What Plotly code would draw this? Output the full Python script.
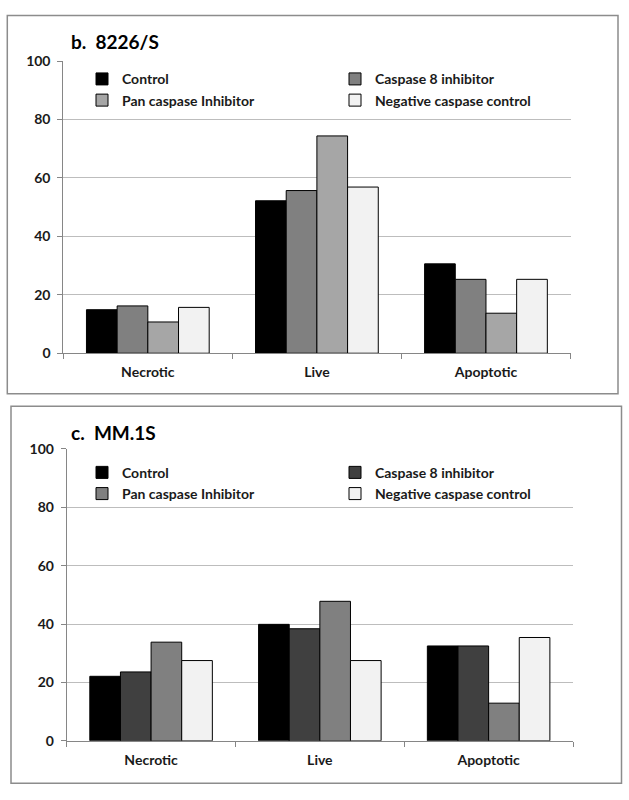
import plotly.graph_objects as go

categories = ["Necrotic", "Live", "Apoptotic"]
series_names = ["Control", "Caspase 8 inhibitor", "Pan caspase Inhibitor", "Negative caspase control"]

# Panel b: 8226/S
b_control = [14.9, 52.2, 30.6]
b_casp8 = [16.2, 55.7, 25.3]
b_pan = [10.7, 74.4, 13.7]
b_neg = [15.7, 56.9, 25.3]

# Panel c: MM.1S
c_control = [22.1, 39.9, 32.5]
c_casp8 = [23.6, 38.4, 32.5]
c_pan = [33.8, 47.8, 12.9]
c_neg = [27.5, 27.5, 35.4]

y_ticks = [0, 20, 40, 60, 80, 100]

b_colors = ["#000000", "#808080", "#a6a6a6", "#f2f2f2"]
c_colors = ["#000000", "#404040", "#808080", "#f2f2f2"]

W, H = 629, 800
FONT = "Lato"

fig = go.Figure()

for vals, name, col in zip([b_control, b_casp8, b_pan, b_neg], series_names, b_colors):
    fig.add_trace(go.Bar(x=categories, y=vals, name=name, marker=dict(color=col, line=dict(color="#000000", width=1)),
                         xaxis="x", yaxis="y", legend="legend"))
for vals, name, col in zip([c_control, c_casp8, c_pan, c_neg], series_names, c_colors):
    fig.add_trace(go.Bar(x=categories, y=vals, name=name, marker=dict(color=col, line=dict(color="#000000", width=1)),
                         xaxis="x2", yaxis="y2", legend="legend2"))

def px_x(p):
    return p / W

def px_y(p):
    return 1 - p / H

axis_color = "#868686"
grid_color = "#bdbdbd"
tickfont = dict(family=FONT, size=14, color="#1a1a1a", weight="bold")

def xax(domain, anchor):
    return dict(domain=domain, anchor=anchor, type="category", showline=True, linecolor=axis_color, linewidth=1,
                ticks="outside", tickson="boundaries", ticklen=5, tickcolor=axis_color, tickfont=tickfont,
                ticklabelstandoff=6, showgrid=False, fixedrange=True)

def yax(domain, anchor):
    return dict(domain=domain, anchor=anchor, range=[0, 100], tickvals=y_ticks, showline=True, linecolor=axis_color,
                linewidth=1, ticks="outside", ticklen=5, tickcolor=axis_color, showgrid=True, gridcolor=grid_color,
                gridwidth=1, tickfont=tickfont, ticklabelstandoff=4, zeroline=False, fixedrange=True)

legend_common = dict(orientation="h", entrywidth=208, entrywidthmode="pixels", bgcolor="rgba(0,0,0,0)",
                     font=dict(family=FONT, size=14, color="#1a1a1a", weight="bold"), xanchor="left", yanchor="top",
                     tracegroupgap=0, itemclick=False, itemdoubleclick=False)

fig.update_layout(
    width=W, height=H,
    margin=dict(l=0, r=0, t=0, b=0),
    paper_bgcolor="white", plot_bgcolor="white",
    barmode="group", bargap=0.274, bargroupgap=0,
    xaxis=xax([px_x(63.3), px_x(570.5)], "y"),
    yaxis=yax([px_y(351.7), px_y(53.3)], "x"),
    xaxis2=xax([px_x(66.7), px_x(573)], "y2"),
    yaxis2=yax([px_y(747.7), px_y(449.5)], "x2"),
    legend=dict(x=px_x(82), y=px_y(55.5), **legend_common),
    legend2=dict(x=px_x(82), y=px_y(457.5), **legend_common),
    showlegend=True,
    shapes=[
        dict(type="rect", xref="paper", yref="paper", x0=px_x(7.3), x1=px_x(618), y0=px_y(393), y1=px_y(6.7),
             line=dict(color="#8c8c8c", width=1.5)),
        dict(type="rect", xref="paper", yref="paper", x0=px_x(11), x1=px_x(621.5), y0=px_y(791), y1=px_y(406),
             line=dict(color="#8c8c8c", width=1.5)),
    ],
    annotations=[
        dict(text="b.\u00a0\u00a08226/S", xref="paper", yref="paper", x=px_x(69), y=px_y(33), xanchor="left",
             yanchor="middle", showarrow=False, font=dict(family=FONT, size=19, color="#000000", weight="bold")),
        dict(text="c.\u00a0\u00a0MM.1S", xref="paper", yref="paper", x=px_x(69), y=px_y(433), xanchor="left",
             yanchor="middle", showarrow=False, font=dict(family=FONT, size=19, color="#000000", weight="bold")),
    ],
)

fig.write_html("out.html", config={"displayModeBar": False},
               post_script="document.body.style.margin='0';document.body.style.overflow='hidden';")
